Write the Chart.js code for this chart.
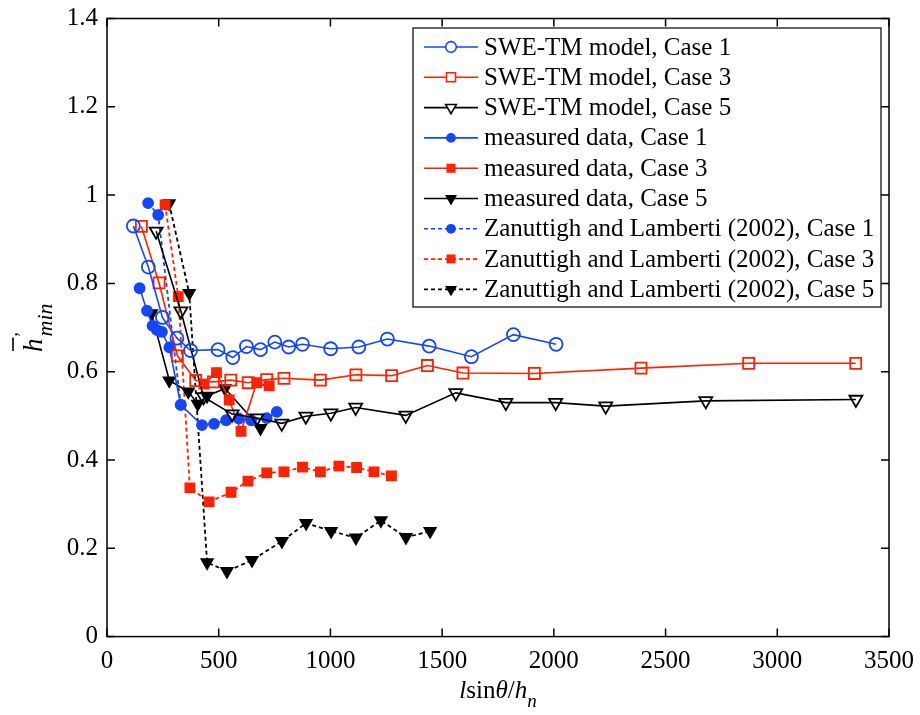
<!DOCTYPE html>
<html>
<head>
<meta charset="utf-8">
<script src="https://cdn.jsdelivr.net/npm/chart.js@4/dist/chart.umd.min.js"></script>
<style>
  html, body { margin: 0; padding: 0; background: #fff; }
  #wrap { width: 920px; height: 715px; }
</style>
</head>
<body>
<div id="wrap"><canvas id="myChart" width="920" height="715"></canvas></div>
<script>
// values
var xTicks = [0, 500, 1000, 1500, 2000, 2500, 3000, 3500];
var yTicks = [0, 0.2, 0.4, 0.6, 0.8, 1, 1.2, 1.4];

var sweCase1X = [118, 185, 248, 313, 374, 497, 563, 624, 687, 751, 813, 875, 1001, 1127, 1255, 1442, 1631, 1819, 2010];
var sweCase1Y = [0.930, 0.837, 0.723, 0.676, 0.648, 0.650, 0.632, 0.657, 0.650, 0.667, 0.656, 0.662, 0.652, 0.656, 0.674, 0.658, 0.634, 0.684, 0.662];

var sweCase3X = [154, 233, 315, 397, 476, 554, 632, 715, 792, 955, 1114, 1274, 1434, 1593, 1913, 2390, 2872, 3351];
var sweCase3Y = [0.929, 0.801, 0.636, 0.580, 0.577, 0.581, 0.575, 0.582, 0.585, 0.581, 0.593, 0.591, 0.614, 0.597, 0.596, 0.608, 0.619, 0.619];

var sweCase5X = [220, 331, 432, 560, 671, 782, 890, 1002, 1113, 1337, 1561, 1785, 2008, 2232, 2680, 3352];
var sweCase5Y = [0.918, 0.737, 0.543, 0.504, 0.495, 0.483, 0.499, 0.506, 0.519, 0.501, 0.552, 0.530, 0.530, 0.522, 0.534, 0.537];

var measCase1X = [146, 179, 204, 224, 246, 279, 330, 425, 479, 533, 590, 645, 715, 760];
var measCase1Y = [0.789, 0.738, 0.704, 0.694, 0.690, 0.655, 0.525, 0.479, 0.482, 0.490, 0.494, 0.490, 0.495, 0.509];

var measCase3X = [434, 490, 547, 600, 670, 726];
var measCase3Y = [0.572, 0.598, 0.536, 0.465, 0.575, 0.568];

var measCase5X = [199, 279, 364, 406, 448, 528, 687];
var measCase5Y = [0.732, 0.580, 0.555, 0.527, 0.545, 0.562, 0.472];

var zanCase1X = [184, 229, 330];
var zanCase1Y = [0.982, 0.955, 0.525];

var zanCase3X = [260, 319, 371, 457, 555, 631, 715, 792, 875, 955, 1038, 1117, 1195, 1273];
var zanCase3Y = [0.978, 0.770, 0.337, 0.305, 0.327, 0.352, 0.371, 0.373, 0.384, 0.373, 0.386, 0.383, 0.373, 0.364];

var zanCase5X = [278, 368, 448, 537, 649, 783, 891, 1003, 1114, 1226, 1338, 1446];
var zanCase5Y = [0.981, 0.778, 0.168, 0.148, 0.173, 0.216, 0.257, 0.239, 0.224, 0.263, 0.225, 0.239];

var BLUE = '#1446ff';
var RED = '#ff2200';
var BLACK = '#000000';
var SERIF = '"Liberation Serif", "DejaVu Serif", serif';

function pts(xs, ys) {
  return xs.map(function (x, i) { return { x: x, y: ys[i] }; });
}

// label, xs, ys, colour, marker, filled, dashed, radius
var series = [
  ['SWE-TM model, Case 1', sweCase1X, sweCase1Y, BLUE, 'circle', false, false, 6.5],
  ['SWE-TM model, Case 3', sweCase3X, sweCase3Y, RED, 'rect', false, false, 7.8],
  ['SWE-TM model, Case 5', sweCase5X, sweCase5Y, BLACK, 'triangle', false, false, 7.5],
  ['measured data, Case 1', measCase1X, measCase1Y, BLUE, 'circle', true, false, 5],
  ['measured data, Case 3', measCase3X, measCase3Y, RED, 'rect', true, false, 6.4],
  ['measured data, Case 5', measCase5X, measCase5Y, BLACK, 'triangle', true, false, 6.5],
  ['Zanuttigh and Lamberti (2002), Case 1', zanCase1X, zanCase1Y, BLUE, 'circle', true, true, 5],
  ['Zanuttigh and Lamberti (2002), Case 3', zanCase3X, zanCase3Y, RED, 'rect', true, true, 6.4],
  ['Zanuttigh and Lamberti (2002), Case 5', zanCase5X, zanCase5Y, BLACK, 'triangle', true, true, 6.5]
];

var datasets = series.map(function (s) {
  return {
    label: s[0],
    data: pts(s[1], s[2]),
    showLine: true,
    borderColor: s[3],
    borderWidth: s[6] ? 1.8 : 1.6,
    borderDash: s[6] ? [4, 3] : [],
    pointStyle: s[4],
    pointRotation: s[4] === 'triangle' ? 180 : 0,
    pointRadius: s[7],
    pointBorderWidth: 1.8,
    pointBorderColor: s[3],
    pointBackgroundColor: s[5] ? s[3] : 'rgba(0,0,0,0)',
    fill: false,
    tension: 0
  };
});

function noPad(s) {
  s.paddingLeft = 0; s.paddingRight = 0; s.paddingTop = 0; s.paddingBottom = 0;
}

// box, inward ticks, axis titles and legend drawn like the original figure
var framePlugin = {
  id: 'frame',
  afterDraw: function (chart) {
    var ctx = chart.ctx;
    var a = chart.chartArea;
    var xs = chart.scales.x, ys = chart.scales.y;
    ctx.save();
    ctx.strokeStyle = '#000';
    ctx.lineWidth = 1.5;
    ctx.strokeRect(a.left, a.top, a.right - a.left, a.bottom - a.top);
    ctx.beginPath();
    xTicks.forEach(function (v) {
      var p = xs.getPixelForValue(v);
      ctx.moveTo(p, a.bottom); ctx.lineTo(p, a.bottom - 8);
      ctx.moveTo(p, a.top); ctx.lineTo(p, a.top + 8);
    });
    yTicks.forEach(function (v) {
      var p = ys.getPixelForValue(v);
      ctx.moveTo(a.left, p); ctx.lineTo(a.left + 8, p);
      ctx.moveTo(a.right, p); ctx.lineTo(a.right - 8, p);
    });
    ctx.stroke();

    // x title: l sin θ / h_n
    ctx.fillStyle = '#000';
    ctx.textBaseline = 'alphabetic';
    var parts = [['l', 'italic 25px ' + SERIF, 0], ['sin', '25px ' + SERIF, 0], ['\u03b8', 'italic 25px ' + SERIF, 0],
                 ['/', '25px ' + SERIF, 0], ['h', 'italic 25px ' + SERIF, 0], ['n', 'italic 19px ' + SERIF, 9]];
    var total = 0;
    parts.forEach(function (p) { ctx.font = p[1]; total += ctx.measureText(p[0]).width; });
    var cx = 498 - total / 2;
    parts.forEach(function (p) {
      ctx.font = p[1];
      ctx.fillText(p[0], cx, 698 + p[2]);
      cx += ctx.measureText(p[0]).width;
    });

    // y title: h-bar prime, subscript min
    ctx.save();
    ctx.translate(42, 352);
    ctx.rotate(-Math.PI / 2);
    ctx.font = 'italic 27px ' + SERIF;
    ctx.fillText('h', 0, 0);
    var hw = ctx.measureText('h').width;
    ctx.lineWidth = 1.6;
    ctx.beginPath();
    ctx.moveTo(1, -29); ctx.lineTo(hw + 1, -29);
    ctx.stroke();
    ctx.font = '18px ' + SERIF;
    ctx.fillText('\u2019', hw + 1, -14);
    ctx.font = 'italic 22px ' + SERIF;
    ctx.fillText('min', hw + 2, 10);
    ctx.restore();

    // legend
    var lx = 413, ly = 28, lw = 468, lh = 279;
    ctx.fillStyle = '#fff';
    ctx.fillRect(lx, ly, lw, lh);
    ctx.strokeStyle = '#000';
    ctx.lineWidth = 1.2;
    ctx.strokeRect(lx, ly, lw, lh);
    series.forEach(function (s, i) {
      var y = 47 + i * 30.3;
      ctx.save();
      ctx.strokeStyle = s[3];
      ctx.lineWidth = 1.6;
      ctx.setLineDash(s[6] ? [4, 3] : []);
      ctx.beginPath();
      ctx.moveTo(424, y); ctx.lineTo(478, y);
      ctx.stroke();
      ctx.restore();
      ctx.save();
      ctx.fillStyle = s[5] ? s[3] : '#fff';
      ctx.strokeStyle = s[3];
      ctx.lineWidth = 1.6;
      ctx.beginPath();
      var r = s[7] * 0.82;
      if (s[4] === 'circle') ctx.arc(451, y, r, 0, Math.PI * 2);
      else if (s[4] === 'rect') { var h = r * Math.SQRT1_2; ctx.rect(451 - h, y - h, 2 * h, 2 * h); }
      else { ctx.moveTo(451, y + r); ctx.lineTo(451 - r * 0.866, y - r / 2); ctx.lineTo(451 + r * 0.866, y - r / 2); ctx.closePath(); }
      ctx.fill(); ctx.stroke();
      ctx.restore();
      ctx.fillStyle = '#000';
      ctx.font = '25px ' + SERIF;
      ctx.textBaseline = 'middle';
      ctx.fillText(s[0], 484, y + 1);
    });
    ctx.restore();
  }
};

var ctx = document.getElementById('myChart').getContext('2d');
var chart = new Chart(ctx, {
  type: 'scatter',
  data: { datasets: datasets },
  options: {
    responsive: false,
    animation: false,
    layout: { padding: { top: 18.5, right: 31, left: 0, bottom: 0 } },
    plugins: { legend: { display: false }, tooltip: { enabled: false } },
    scales: {
      x: {
        type: 'linear', min: 0, max: 3500,
        afterBuildTicks: function (s) { s.ticks = xTicks.map(function (v) { return { value: v }; }); },
        afterFit: function (s) { s.height = 78.4; noPad(s); },
        grid: { display: false, drawTicks: false },
        border: { display: false },
        ticks: { color: '#000', padding: 10, font: { family: SERIF, size: 25 }, maxRotation: 0,
                 callback: function (v) { return String(v); } }
      },
      y: {
        type: 'linear', min: 0, max: 1.4,
        afterBuildTicks: function (s) { s.ticks = yTicks.map(function (v) { return { value: v }; }); },
        afterFit: function (s) { s.width = 107; noPad(s); },
        grid: { display: false, drawTicks: false },
        border: { display: false },
        ticks: { color: '#000', padding: 9, font: { family: SERIF, size: 25 },
                 callback: function (v) { return String(+v.toFixed(1)); } }
      }
    }
  },
  plugins: [framePlugin]
});
</script>
</body>
</html>
